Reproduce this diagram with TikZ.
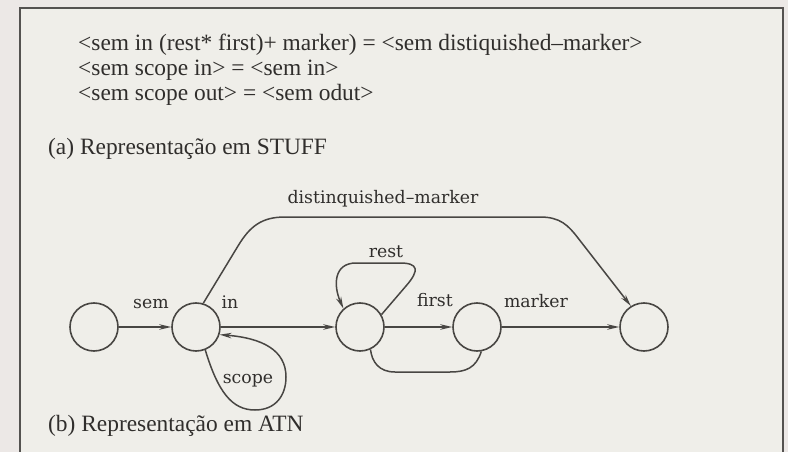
\documentclass[tikz,border=0pt]{standalone}
\usepackage{fontspec}
\setmainfont{Liberation Serif}
\newfontfamily\labelfont{DejaVu Serif}
\usetikzlibrary{arrows.meta}
\definecolor{paper}{RGB}{239,238,233}
\definecolor{margin}{RGB}{236,232,230}
\definecolor{ink}{RGB}{48,46,44}
\definecolor{linec}{RGB}{72,70,67}
\definecolor{framec}{RGB}{84,82,80}
\tikzset{
  state/.style={circle, draw=linec, line width=1.6pt, minimum size=48pt, inner sep=0pt},
  arc/.style={draw=linec, line width=1.5pt},
  tip/.style={-{Stealth[length=12pt,width=5.5pt]}},
  lbl/.style={font=\labelfont\fontsize{17.3}{20}\selectfont, text=ink, inner sep=0pt, anchor=base},
  body/.style={font=\fontsize{23.4}{27}\selectfont, text=ink, inner sep=0pt, anchor=base west}
}
\begin{document}
\begin{tikzpicture}[x=1pt,y=-1pt]
\useasboundingbox (0,0) rectangle (788,452);
\fill[margin] (0,0) rectangle (788,452);
\fill[paper] (20,8) rectangle (783,452);
% frame of the figure
\draw[framec, line width=2.2pt] (20,452) -- (20,8) -- (783,8) -- (783,452);

% (a) STUFF representation
\node[body] (l1) at (78,51) {<sem in (rest* first)+ marker) = <sem distiquished–marker>};
\node[body] (l2) at (78,76) {<sem scope in> = <sem in>};
\node[body] (l3) at (78,101) {<sem scope out> = <sem odut>};
\node[body] (capa) at (48,154) {(a) Representação em STUFF};

% (b) ATN representation: states
\node[state] (n1) at (94,327) {};
\node[state] (n2) at (196,327) {};
\node[state] (n3) at (360,327) {};
\node[state] (n4) at (477,327) {};
\node[state] (n5) at (644,327) {};

% transitions
\draw[arc, tip] (n1) -- (n2);
\draw[arc, tip] (n2) -- (n3);
\draw[arc, tip] (n3) -- (n4);
\draw[arc, tip] (n4) -- (n5);
\draw[arc, tip] (n2.73) -- (238,246) .. controls (250,226) and (262,217) .. (285,217)
  -- (540,217) .. controls (560,217) and (568,225) .. (578,238) -- (n5.122);
\draw[arc, tip] (n3.30) -- (406,286) .. controls (420,270) and (418,263) .. (400,263)
  -- (356,263) .. controls (334,263) and (333,285) .. (n3.132);
\draw[arc] (n4.-80) .. controls (476,368) and (466,372) .. (450,372)
  -- (395,372) .. controls (379,372) and (372,362) .. (n3.-65);
\draw[arc, tip] (n2.-68) .. controls (218,392) and (232,410) .. (255,410)
  .. controls (276,410) and (286,395) .. (286,377)
  .. controls (286,350) and (262,338) .. (n2.-18);

% transition labels
\node[lbl] (tsem) at (151,308) {sem};
\node[lbl] (tin) at (230,308) {in};
\node[lbl] (tfirst) at (435,306) {first};
\node[lbl] (tmarker) at (536,307) {marker};
\node[lbl] (trest) at (386,257) {rest};
\node[lbl] (tscope) at (248,383) {scope};
\node[lbl] (tdist) at (383,203) {distinquished–marker};

\node[body] (capb) at (48,431) {(b) Representação em ATN};
\end{tikzpicture}
\end{document}
